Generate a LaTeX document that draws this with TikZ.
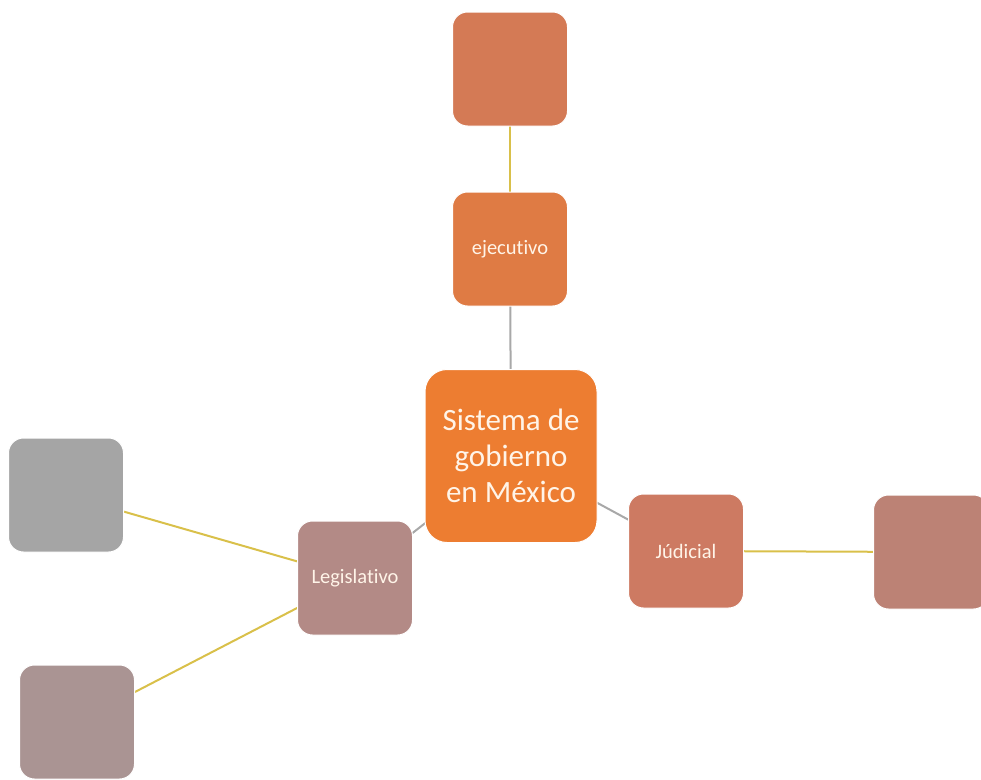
\documentclass[tikz,border=0pt]{standalone}
\usepackage{fontspec}
\setmainfont[Ligatures={NoCommon}]{Carlito}
\usetikzlibrary{backgrounds}
\definecolor{cTop}{HTML}{D47A55}
\definecolor{cEje}{HTML}{DF7B44}
\definecolor{cCen}{HTML}{ED7D31}
\definecolor{cJud}{HTML}{CD7A62}
\definecolor{cRig}{HTML}{BC8275}
\definecolor{cLeg}{HTML}{B38A86}
\definecolor{cGry}{HTML}{A5A5A5}
\definecolor{cBot}{HTML}{AA9493}
\definecolor{cYel}{HTML}{D9C04A}
\definecolor{cLin}{HTML}{A8A8A8}
\definecolor{cTxt}{HTML}{FFF4E8}
\tikzset{
  box/.style={draw=white, line width=1pt, rounded corners=15pt, minimum width=115pt, minimum height=114pt, inner sep=0pt, text=cTxt, font=\fontsize{20.5}{24}\selectfont},
  bigbox/.style={box, rounded corners=22pt, minimum width=172pt, minimum height=173pt, align=center, font=\fontsize{31}{36}\selectfont},
  yline/.style={draw=cYel, line width=2pt},
  gline/.style={draw=cLin, line width=2pt}
}
\begin{document}
\begin{tikzpicture}[x=1pt,y=-1pt]
\useasboundingbox (0,0) rectangle (981,779);
\node[box, fill=cTop] (top) at (510,69) {};
\node[box, fill=cEje] (eje) at (510,249) {ejecutivo};
\node[bigbox, fill=cCen] (cen) at (511,456) {Sistema de\\gobierno\\en México};
\node[box, fill=cJud] (jud) at (686,551) {Júdicial};
\node[box, fill=cRig] (rig) at (931,552) {};
\node[box, fill=cLeg] (leg) at (355,578) {Legislativo};
\node[box, fill=cGry] (gry) at (66,495) {};
\node[box, fill=cBot] (bot) at (77,722) {};
\begin{scope}[on background layer]
\draw[yline] (top.center) -- (eje.center);
\draw[gline] (eje.center) -- (cen.center);
\draw[gline] (cen.center) -- (jud.center);
\draw[yline] (jud.center) -- (rig.center);
\draw[gline] (cen.center) -- (leg.center);
\draw[yline] (leg.center) -- (gry.center);
\draw[yline] (leg.center) -- (bot.center);
\end{scope}
\end{tikzpicture}
\end{document}
